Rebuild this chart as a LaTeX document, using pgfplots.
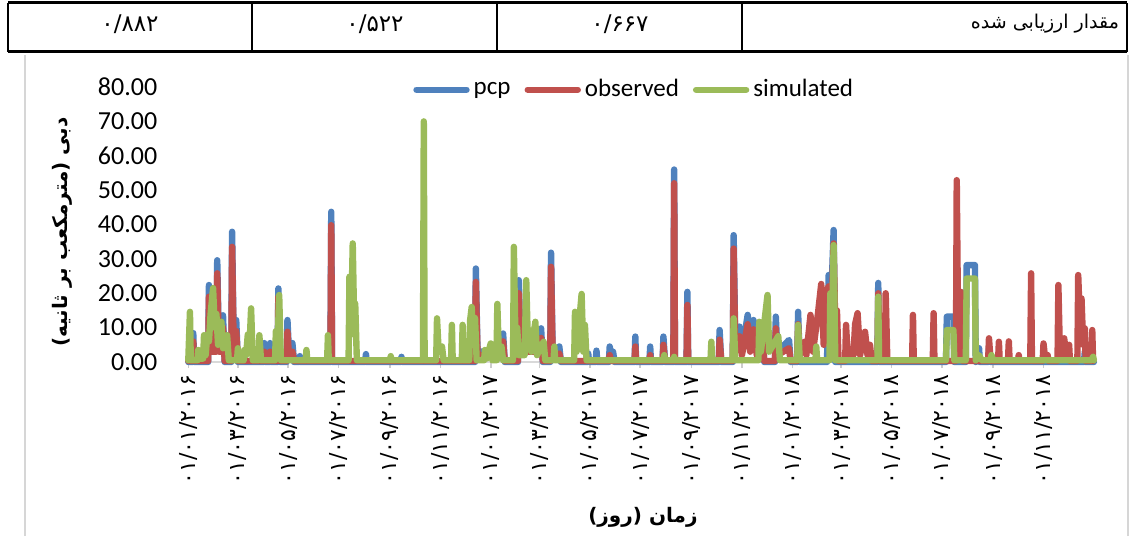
\documentclass[border=0pt]{standalone}
\usepackage{fontspec}
\usepackage{pgfplots}
\pgfplotsset{compat=1.18}
\setmainfont{Carlito}
\newfontfamily\arabicfont[Script=Arabic]{DejaVu Sans}
\newfontfamily\digitfont{DejaVu Sans}
\TeXXeTstate=1
\definecolor{pcpblue}{HTML}{4F81BD}
\definecolor{obsred}{HTML}{C0504D}
\definecolor{simgreen}{HTML}{9BBB59}
\begin{document}
\begin{tikzpicture}
\path[use as bounding box] (0,0) rectangle (567.5pt,268pt);
% light frame of the chart area
\draw[black!16, line width=1pt] (12.5pt,0pt) -- (12.5pt,240.5pt);
\draw[black!16, line width=1pt] (564pt,0pt) -- (564pt,240.5pt);
% table row
\draw[line width=1.5pt] (4pt,266.5pt) -- (563.5pt,266.5pt);
\draw[line width=1.5pt] (4pt,242pt) -- (563.5pt,242pt);
\foreach \x in {4,126,248.5,371,563.5} \draw[line width=0.6pt] (\x pt,242pt) -- (\x pt,266.5pt);
\node[font=\digitfont\fontsize{11.5}{13}\selectfont] at (65pt,256pt) {۰/۸۸۲};
\node[font=\digitfont\fontsize{11.5}{13}\selectfont] at (187.5pt,256pt) {۰/۵۲۲};
\node[font=\digitfont\fontsize{11.5}{13}\selectfont] at (310pt,256pt) {۰/۶۶۷};
\node[anchor=east, font=\fontsize{9.5}{11}\selectfont] at (563pt,256pt) {\arabicfont\beginR مقدار ارزیابی شده\endR};
\begin{axis}[
  at={(94.15pt,87pt)}, anchor=south west,
  scale only axis, width=452.8pt, height=137.5pt,
  xmin=0, xmax=1096, ymin=0, ymax=80,
  clip=false,
  axis lines*=left,
  y axis line style={draw=none},
  x axis line style={draw=black!15, line width=1pt},
  ytick={0,10,...,80},
  ytick style={draw=none},
  yticklabel style={font=\fontsize{13}{15}\selectfont, /pgf/number format/fixed, /pgf/number format/fixed zerofill, /pgf/number format/precision=2, /pgf/number format/assume math mode=true, xshift=-9pt},
  xtick={0,60,121,182,244,305,366,425,486,547,609,670,731,790,851,912,974,1035},
  xticklabels={{۰۱/۰۱/۲۰۱۶},{۰۱/۰۳/۲۰۱۶},{۰۱/۰۵/۲۰۱۶},{۰۱/۰۷/۲۰۱۶},{۰۱/۰۹/۲۰۱۶},{۰۱/۱۱/۲۰۱۶},{۰۱/۰۱/۲۰۱۷},{۰۱/۰۳/۲۰۱۷},{۰۱/۰۵/۲۰۱۷},{۰۱/۰۷/۲۰۱۷},{۰۱/۰۹/۲۰۱۷},{۰۱/۱۱/۲۰۱۷},{۰۱/۰۱/۲۰۱۸},{۰۱/۰۳/۲۰۱۸},{۰۱/۰۵/۲۰۱۸},{۰۱/۰۷/۲۰۱۸},{۰۱/۰۹/۲۰۱۸},{۰۱/۱۱/۲۰۱۸}},
  xticklabel style={rotate=90, anchor=east, font=\digitfont\fontsize{11}{13}\selectfont},
  xtick style={draw=black!20, line width=0.8pt},
  tick align=outside, major tick length=3pt,
  xlabel={\arabicfont\bfseries\beginR زمان (روز)\endR},
  xlabel style={at={(axis description cs:0.502,-0.564)}, anchor=center, font=\fontsize{10}{12}\selectfont},
  ylabel={\arabicfont\bfseries\beginR دبی (مترمکعب بر ثانیه)\endR},
  ylabel style={at={(axis description cs:-0.1395,0.473)}, anchor=center, font=\fontsize{10}{12}\selectfont},
  legend style={at={(0.4935,0.99)}, anchor=center, draw=none, fill=none, font=\fontsize{12.5}{15}\selectfont, /tikz/every even column/.append style={column sep=5pt}},
  legend columns=3,
  legend cell align=left,
  legend image code/.code={\draw[#1, line cap=round] (0pt,0pt) -- (25pt,0pt);},
  every axis plot/.append style={line width=3.2pt, line join=round, line cap=round, mark=none},
]
\addplot[pcpblue] coordinates {
(0,0)(5,0)(6,8.4)(7,0)(24,0)(25,22.4)(27,5)(34,5)(35,29.6)(37,5)(41,5)(42,13.6)(44,0)(52,0)(53,37.9)(55,5)(58,12.2)(60,0)(91,0)(92,5.5)(93,0)(98,0)(99,5.5)(100,0)(108,0)(109,21.4)(111,0)(119,0)(120,12.2)(122,2)(126,5.5)(128,0)(134,0)(135,1.7)(136,0)(172,0)(173,43.7)(174,0)(214,0)(215,2.3)(216,0)(257,0)(258,1.5)(259,0)(347,0)(348,27.2)(350,3)(380,3)(381,8.3)(383,0)(399,0)(400,23.8)(402,5)(426,5)(427,9.8)(429,0)(438,0)(439,31.8)(441,2)(449,4.5)(451,0)(483,0)(484,2.5)(485,0)(493,0)(494,3.3)(495,0)(509,0)(510,4.5)(512,2)(514,3)(516,0)(540,0)(541,7.4)(542,0)(558,0)(559,4.5)(560,0)(574,0)(575,7.4)(577,0)(587,0)(588,56)(589,0)(603,0)(604,20.4)(605,0)(642,0)(643,9.3)(645,0)(659,0)(660,36.9)(662,5)(667,10.3)(670,3)(677,13.7)(680,5)(684,12.2)(688,3)(695,10.3)(697,0)(710,0)(711,13.2)(713,3)(727,6.4)(729,0)(737,0)(738,14.6)(740,0)(773,0)(775,25.3)(777,10)(781,38.4)(783,0)(834,0)(835,23)(836,0)(917,0)(918,13.2)(926,13.2)(927,0)(941,0)(942,28.2)(952,28.2)(953,0)(957,4)(958,0)(968,0)(969,4)(971,0)(1084,0)(1085,3)(1086,0)(1096,0)
};
\addlegendentry{pcp}
\addplot[obsred] coordinates {
(0,0.3)(5,0.3)(6,6)(7,0.3)(24,0.3)(25,19)(27,3)(34,3)(35,25.8)(37,3)(41,3)(42,10)(44,0.3)(52,0.3)(53,33.5)(55,3)(58,9)(60,0.3)(91,0.3)(92,3)(93,0.3)(98,0.3)(99,3)(100,0.3)(108,0.3)(109,19)(111,0.3)(119,0.3)(120,8.8)(122,1)(126,3)(128,0.3)(172,0.3)(173,39.8)(174,0.3)(347,0.3)(348,23.3)(350,2)(380,2)(381,6)(383,0.3)(399,0.3)(400,20)(402,3)(426,3)(427,7)(429,0.3)(438,0.3)(439,27.7)(441,1)(449,2.5)(451,0.3)(509,0.3)(510,2)(512,0.3)(540,0.3)(541,4.5)(542,0.3)(558,0.3)(559,2)(560,0.3)(574,0.3)(575,5)(577,0.3)(587,0.3)(588,52)(589,0.3)(603,0.3)(604,16.6)(605,0.3)(642,0.3)(643,6.5)(645,0.3)(659,0.3)(660,33)(662,3)(667,7.5)(670,2)(677,11)(680,3)(684,9.5)(688,2)(695,7.5)(697,0.3)(710,0.3)(711,9.8)(713,2)(727,4)(729,0.3)(737,0.3)(738,11)(740,2)(746,5.9)(748,2)(753,13.7)(756,3)(762,14)(766,22.7)(769,5)(772,20)(775,22)(778,8)(781,34.5)(783,10)(785,15)(787,0.3)(795,0.3)(796,10.8)(798,2)(805,2)(807,11)(810,14.2)(813,2)(819,8.8)(822,2)(825,5)(827,0.3)(834,0.3)(835,20)(837,0.3)(843,0.3)(844,20)(846,0.3)(876,0.3)(877,13.7)(878,0.3)(901,0.3)(902,14.2)(903,0.3)(929,0.3)(930,52.9)(932,0.5)(935,20.4)(937,0.3)(968,0.3)(969,6.9)(971,0.3)(980,0.3)(981,5.9)(982,0.3)(992,0.3)(993,6)(994,0.3)(1004,0.3)(1005,2)(1006,0.3)(1019,0.3)(1020,25.8)(1021,0.3)(1034,0.3)(1035,5.4)(1037,1)(1040,2)(1041,0.3)(1052,0.3)(1053,22.4)(1055,1)(1060,6.9)(1063,1)(1066,5)(1067,0.3)(1076,0.3)(1077,25.3)(1079,12)(1081,18.5)(1083,5)(1085,9.8)(1086,0.3)(1093,0.3)(1094,9.3)(1095,0.3)
};
\addlegendentry{observed}
\addplot[simgreen] coordinates {
(0,0.5)(2,14.6)(3,0.5)(11,0.5)(12,3.5)(14,1)(18,1)(19,7.8)(21,2)(23,8)(25,6)(27,14)(30,21.5)(32,10)(34,14)(36,5)(40,11.7)(42,4)(47,7.8)(49,0.5)(59,0.5)(60,4)(61,0.5)(67,0.5)(68,3.5)(70,2)(72,8)(74,4)(76,15.6)(78,0.5)(85,0.5)(86,7.8)(88,0.5)(105,0.5)(106,9)(108,5)(110,19.5)(112,0.5)(142,0.5)(143,3.5)(144,0.5)(168,0.5)(169,7.8)(170,0.5)(194,0.5)(195,24.8)(197,10)(199,34.5)(201,8)(202,17)(204,0.5)(244,0.5)(245,1.7)(246,0.5)(284,0.5)(285,70)(286,0.5)(300,0.5)(301,12.7)(303,3)(307,4.5)(309,0.5)(318,0.5)(319,10.8)(320,0.5)(331,0.5)(332,10.8)(333,0.5)(340,0.5)(341,12)(343,16)(345,5)(347,12.8)(349,0.5)(358,0.5)(359,3.5)(361,1)(366,5.4)(368,0.5)(373,0.5)(374,16.9)(376,1)(379,4.5)(381,0.5)(393,0.5)(394,33.5)(396,5)(398,10)(400,2)(407,2)(409,23.8)(411,5)(413,9.3)(415,3)(420,11.7)(422,2)(430,5.9)(432,0.5)(442,0.5)(443,4.5)(444,0.5)(467,0.5)(468,14.6)(470,3)(476,19.8)(478,3)(480,10.8)(482,0.5)(575,0.5)(576,2)(577,0.5)(587,0.5)(588,1.5)(589,0.5)(632,0.5)(633,5.9)(634,0.5)(659,0.5)(660,12.7)(662,0.5)(690,0.5)(691,11.7)(693,3)(701,19.5)(703,3)(714,7.5)(716,0.5)(737,0.5)(738,10.8)(740,0.5)(759,0.5)(760,4.5)(761,0.5)(776,0.5)(777,20)(779,8)(781,34)(783,0.5)(834,0.5)(835,19)(836,0.5)(917,0.5)(918,9.3)(926,9.3)(927,0.5)(941,0.5)(942,24.3)(952,24.3)(953,0.5)(957,2)(960,0.5)(971,0.5)(972,2)(974,0.5)(1093,0.5)(1095,1.5)(1096,0.5)
};
\addlegendentry{simulated}
\end{axis}
\end{tikzpicture}
\end{document}
